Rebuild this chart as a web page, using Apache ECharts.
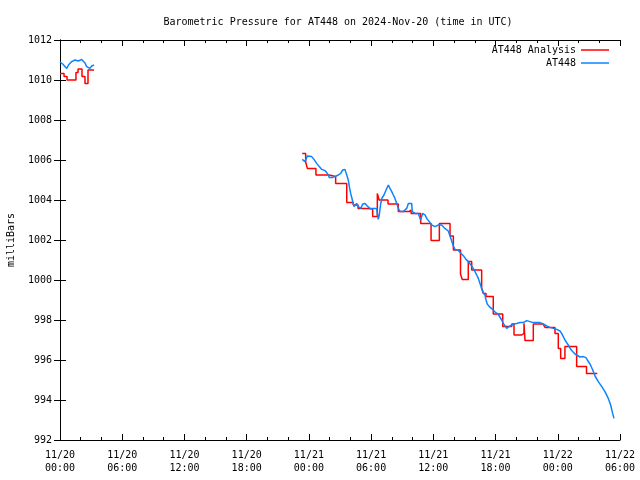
<!DOCTYPE html>
<html>
<head>
<meta charset="utf-8">
<script src="https://cdn.jsdelivr.net/npm/echarts@6/dist/echarts.min.js"></script>
<style>html,body{margin:0;padding:0;background:#fff}#c{width:640px;height:480px}</style>
</head>
<body>
<div id="c"></div>
<script>
// Hours since 2024-11-20 00:00 UTC
var xTickLabels = ['11/20\n00:00','11/20\n06:00','11/20\n12:00','11/20\n18:00','11/21\n00:00','11/21\n06:00','11/21\n12:00','11/21\n18:00','11/22\n00:00','11/22\n06:00'];
var yTicks = [992, 994, 996, 998, 1000, 1002, 1004, 1006, 1008, 1010, 1012];

// AT448 observations, segment 1
var obs1Hours = [0, 0.26, 0.65, 0.82, 1.13, 1.45, 1.76, 2.09, 2.41, 2.57, 2.89, 3.06, 3.28];
var obs1Press = [1010.9, 1010.8, 1010.58, 1010.75, 1010.92, 1011.0, 1010.95, 1011.03, 1010.85, 1010.67, 1010.58, 1010.7, 1010.75];

// AT448 observations, segment 2
var obs2Hours = [23.36,23.62,23.72,23.85,24.01,24.27,24.49,24.75,25.0,25.24,25.39,25.55,25.65,25.78,25.97,26.1,26.3,26.52,26.84,27.07,27.26,27.48,27.65,27.8,27.9,28.03,28.19,28.35,28.61,28.76,29.0,29.19,29.41,29.63,29.89,30.21,30.37,30.54,30.6,30.69,30.79,30.92,31.05,31.24,31.44,31.66,31.82,31.99,32.14,32.3,32.47,32.62,32.79,32.95,33.1,33.27,33.43,33.59,33.75,33.91,33.97,34.23,34.55,34.71,34.78,34.97,35.1,35.2,35.36,35.51,35.68,35.84,36.0,36.16,36.32,36.48,36.64,36.8,36.96,37.12,37.29,37.44,37.61,37.77,37.93,38.09,38.25,38.41,38.57,38.73,38.96,39.15,39.37,39.54,39.7,39.85,40.02,40.18,40.34,40.5,40.66,40.82,40.98,41.08,41.2,41.4,41.63,41.95,42.24,42.43,42.59,42.75,42.91,43.07,43.23,43.39,43.56,43.71,44.04,44.36,44.68,45.0,45.16,45.64,46.29,46.6,46.93,47.25,47.57,47.9,48.21,48.37,48.53,48.69,48.86,49.01,49.18,49.34,49.5,49.66,49.82,50.14,50.46,50.72,50.85,51.11,51.37,51.59,51.91,52.24,52.55,52.87,53.1,53.29,53.42];
var obs2Press = [1006.03,1005.92,1005.83,1006.2,1006.27,1006.17,1006.03,1005.83,1005.67,1005.53,1005.53,1005.47,1005.53,1005.33,1005.13,1005.03,1005.13,1005.17,1005.25,1005.33,1005.5,1005.53,1005.47,1005.0,1004.67,1004.33,1004.0,1003.67,1003.83,1003.67,1003.58,1003.8,1003.83,1003.7,1003.58,1003.58,1003.5,1003.58,1003.33,1003.03,1003.25,1003.8,1004.1,1004.25,1004.5,1004.75,1004.58,1004.42,1004.25,1004.08,1003.83,1003.58,1003.42,1003.33,1003.42,1003.42,1003.58,1003.83,1003.75,1003.83,1003.42,1003.33,1003.33,1003.42,1003.0,1003.33,1003.37,1003.25,1003.08,1003.0,1002.87,1002.75,1002.7,1002.67,1002.67,1002.75,1002.83,1002.75,1002.67,1002.58,1002.67,1002.45,1002.2,1001.95,1001.7,1001.53,1001.5,1001.48,1001.42,1001.3,1001.17,1001.03,1000.92,1000.8,1000.7,1000.58,1000.42,1000.25,1000.08,999.83,999.58,999.37,999.25,999.0,998.8,998.67,998.57,998.4,998.3,998.25,998.0,997.83,997.75,997.58,997.67,997.7,997.75,997.8,997.83,997.87,997.87,997.97,997.9,997.87,997.87,997.8,997.7,997.63,997.58,997.53,997.45,997.33,997.17,997.0,996.87,996.75,996.6,996.47,996.37,996.3,996.25,996.15,996.17,996.12,996.0,995.8,995.5,995.2,994.92,994.67,994.42,994.08,993.75,993.33,993.08];

// AT448 Analysis (step values, each holds until the next time), segment 1
var ana1Hours = [0, 0.39, 0.68, 1.54, 1.74, 2.12, 2.41, 2.70, 3.28];
var ana1Press = [1010.33, 1010.17, 1010.0, 1010.37, 1010.55, 1010.17, 1009.83, 1010.5, 1010.5];

// AT448 Analysis, segment 2
var ana2Hours = [23.36,23.69,23.85,24.68,25.97,26.58,27.65,28.28,28.74,29.63,30.15,30.6,30.77,31.63,32.62,33.65,33.85,34.78,35.78,36.58,37.61,37.93,38.62,38.79,39.37,39.7,40.66,40.82,41.08,41.78,42.69,43.56,43.78,44.52,44.74,44.84,45.64,46.58,46.77,47.73,48.05,48.28,48.69,49.82,50.77,51.81];
var ana2Press = [1006.33,1005.9,1005.58,1005.25,1005.17,1004.83,1003.88,1003.75,1003.58,1003.55,1003.17,1004.33,1004.0,1003.8,1003.42,1003.5,1003.33,1002.83,1001.97,1002.83,1002.2,1001.5,1000.3,1000.03,1000.92,1000.5,999.58,999.33,999.17,998.3,997.67,997.8,997.25,997.33,997.83,996.97,997.8,997.7,997.63,997.33,996.58,996.08,996.67,995.67,995.33,995.33];

function zip(a, b) { return a.map(function (v, i) { return [v, b[i]]; }); }

var RED = '#ff0000';
var BLUE = '#0a84ff';
var FONT = 'DejaVu Sans Mono';

var chart = echarts.init(document.getElementById('c'), null, { renderer: 'canvas' });

var tickStyle = { show: true, inside: true, length: 6, lineStyle: { color: '#000', width: 1 } };
var minorStyle = { show: true, splitNumber: 3, length: 3, lineStyle: { color: '#000', width: 1 } };
var lineStyleAx = { show: true, lineStyle: { color: '#000', width: 1 } };

chart.setOption({
  animation: false,
  backgroundColor: '#fff',
  title: {
    text: 'Barometric Pressure for AT448 on 2024-Nov-20 (time in UTC)',
    left: 333, textAlign: 'center', top: 12,
    textStyle: { fontFamily: FONT, fontSize: 10, fontWeight: 'normal', color: '#000' }
  },
  legend: [
    {
      data: [{ name: 'AT448 Analysis', icon: 'rect' }], orient: 'vertical', align: 'right',
      right: 31, top: 44, itemWidth: 28, itemHeight: 1.5, padding: 0,
      textStyle: { fontFamily: FONT, fontSize: 10, color: '#000', lineHeight: 12 }
    },
    {
      data: [{ name: 'AT448', icon: 'rect' }], orient: 'vertical', align: 'right',
      right: 31, top: 57, itemWidth: 28, itemHeight: 1.5, padding: 0,
      textStyle: { fontFamily: FONT, fontSize: 10, color: '#000', lineHeight: 12 }
    }
  ],
  grid: { left: 60, right: 20, top: 40, bottom: 40, containLabel: false, outerBoundsMode: 'none' },
  xAxis: [
    {
      type: 'value', min: 0, max: 54, interval: 6, position: 'bottom',
      axisLine: lineStyleAx, axisTick: tickStyle, minorTick: minorStyle,
      splitLine: { show: false },
      axisLabel: {
        margin: 9, fontFamily: FONT, fontSize: 10, color: '#000', lineHeight: 13,
        formatter: function (v) { return xTickLabels[Math.round(v / 6)]; }
      }
    },
    {
      type: 'value', min: 0, max: 54, interval: 6, position: 'top',
      axisLine: lineStyleAx, axisTick: tickStyle, minorTick: minorStyle,
      splitLine: { show: false }, axisLabel: { show: false }
    }
  ],
  yAxis: [
    {
      type: 'value', min: yTicks[0], max: yTicks[yTicks.length - 1], interval: 2, position: 'left',
      axisLine: lineStyleAx, axisTick: tickStyle, splitLine: { show: false },
      axisLabel: { margin: 8, fontFamily: FONT, fontSize: 10, color: '#000',
        formatter: function (v) { return String(v); } },
      name: 'milliBars', nameLocation: 'middle', nameGap: 44, nameRotate: 90,
      nameTextStyle: { fontFamily: FONT, fontSize: 10, color: '#000' }
    },
    {
      type: 'value', min: yTicks[0], max: yTicks[yTicks.length - 1], interval: 2, position: 'right',
      axisLine: lineStyleAx, axisTick: tickStyle, splitLine: { show: false },
      axisLabel: { show: false }
    }
  ],
  series: [
    { name: 'AT448 Analysis', type: 'line', step: 'end', data: zip(ana1Hours, ana1Press), showSymbol: false, silent: true,
      lineStyle: { color: RED, width: 1.5 }, itemStyle: { color: RED } },
    { name: 'AT448 Analysis', type: 'line', step: 'end', data: zip(ana2Hours, ana2Press), showSymbol: false, silent: true,
      lineStyle: { color: RED, width: 1.5 }, itemStyle: { color: RED } },
    { name: 'AT448', type: 'line', data: zip(obs1Hours, obs1Press), showSymbol: false, silent: true,
      lineStyle: { color: BLUE, width: 1.5 }, itemStyle: { color: BLUE } },
    { name: 'AT448', type: 'line', data: zip(obs2Hours, obs2Press), showSymbol: false, silent: true,
      lineStyle: { color: BLUE, width: 1.5 }, itemStyle: { color: BLUE } }
  ]
});
</script>
</body>
</html>
